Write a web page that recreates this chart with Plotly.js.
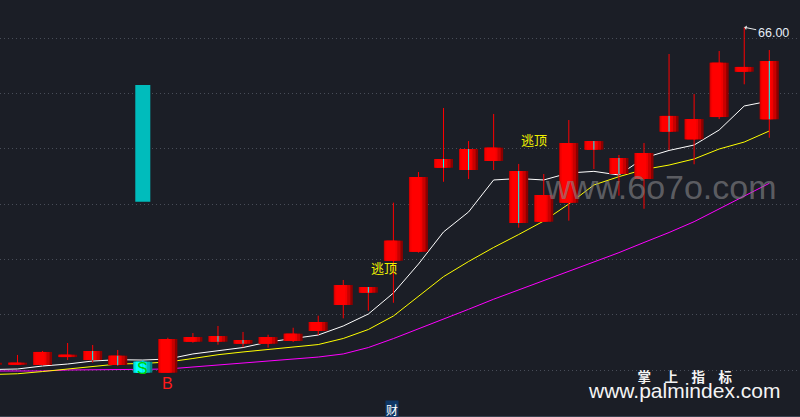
<!DOCTYPE html>
<html><head><meta charset="utf-8">
<script src="https://cdn.plot.ly/plotly-3.0.1.min.js"></script>
<style>html,body{margin:0;padding:0;background:#1b1e26;overflow:hidden}#chart{width:800px;height:417px}</style>
</head><body><div id="chart"></div>
<script>
// ---- data ----
const idx   = [-1,0,1,2,3,4,5,6,7,8,9,10,11,12,13,14,15,16,17,18,19,20,21,22,23,24,25,26,27,28,29,30];
const open  = [35.49,35.49,35.46,36.18,36.73,36.30,35.76,34.77,37.57,38.08,37.72,37.39,37.63,38.54,40.89,42.51,44.89,45.71,54.09,54.99,53.91,53.00,48.42,50.14,55.71,54.18,52.28,57.98,55.87,57.88,61.98,62.95];
const high  = [35.82,36.37,36.73,37.45,37.27,36.82,35.91,37.93,38.35,38.99,38.45,38.20,38.83,39.92,43.15,42.51,50.14,52.91,58.70,55.71,58.16,53.64,52.73,57.61,55.71,54.45,55.53,63.58,59.96,63.85,66.00,63.94];
const low   = [35.37,35.46,35.42,35.91,35.67,35.37,34.74,34.77,37.48,37.30,37.06,37.03,37.54,38.17,39.68,40.37,41.09,45.62,52.03,52.28,53.09,47.88,48.42,48.51,53.18,50.77,49.59,54.90,53.61,57.70,60.84,56.01];
const close = [35.67,35.67,36.64,36.39,35.91,35.46,34.77,37.81,37.99,37.57,37.39,37.99,38.29,39.35,42.69,42.00,46.70,52.46,53.30,53.09,55.11,48.30,50.83,55.53,54.93,52.73,54.63,56.56,57.70,62.79,62.41,57.68];
const maWhite   = [35.05,35.10,35.37,35.55,35.82,35.94,35.91,36.00,36.46,36.73,37.04,37.54,37.86,38.17,38.99,40.07,41.97,44.59,47.49,49.30,52.19,52.32,52.19,52.82,52.97,52.64,54.18,54.86,55.35,56.71,58.88,59.33];
const maYellow  = [34.60,34.67,34.87,35.10,35.37,35.55,35.60,35.73,36.05,36.39,36.64,36.86,37.03,37.31,37.86,38.67,39.89,41.66,43.45,44.82,46.09,47.26,48.48,50.02,51.74,52.49,53.14,53.54,54.09,54.99,55.62,56.62];
const maMagenta = [34.92,34.92,34.92,35.01,35.01,35.05,35.07,35.10,35.28,35.46,35.62,35.82,35.96,36.18,36.46,37.04,37.85,38.72,39.57,40.50,41.41,42.25,43.09,43.93,44.77,45.62,46.54,47.44,48.42,49.57,50.79,51.89];
const sellIdx = [5];          // S signal day (cyan candle)
const buyIdx  = [6];          // B signal day
const signalBarX = [5], signalBarLow = [50.23], signalBarHigh = [60.78];
const topLabels = [{x:14.63, y:44.30, t:'逃顶'}, {x:20.61, y:55.87, t:'逃顶'}];
const buyLabelY = 33.83, sellLabelY = 35.19;
const peakIdx = 29, peakVal = 66.00;

// ---- axes ----
const xr = [-0.698, 31.225];
const yr = [30.85, 68.463];

const traces = [];
// moving averages (main subplot, under candles)
traces.push({x: idx, y: maMagenta, type:'scatter', mode:'lines', line:{color:'#ff00ff', width:1}, hoverinfo:'skip'});
traces.push({x: idx, y: maYellow,  type:'scatter', mode:'lines', line:{color:'#ffff00', width:1}, hoverinfo:'skip'});
traces.push({x: idx, y: maWhite,   type:'scatter', mode:'lines', line:{color:'#ffffff', width:1}, hoverinfo:'skip'});

// candle groups
const isSell = i => sellIdx.includes(idx[i]);
const red = [], cyan = [];
idx.forEach((v,i) => (isSell(i) ? cyan : red).push(i));

function wicks(list, color){
  const xs=[], ys=[];
  list.forEach(i => { xs.push(idx[i], idx[i], null); ys.push(low[i], high[i], null); });
  return {x:xs, y:ys, type:'scatter', mode:'lines', line:{color:color, width:1}, xaxis:'x2', yaxis:'y2', hoverinfo:'skip'};
}
function bodies(list, colors){
  const layers = [[-0.379,0.758],[-0.379,0.66],[-0.345,0.50],[-0.28,0.36]];
  return layers.map((L,k) => ({
    type:'bar', x:list.map(i=>idx[i]),
    base:list.map(i=>Math.min(open[i],close[i])),
    y:list.map(i=>Math.max(Math.abs(close[i]-open[i]),0.15)),
    offset:L[0], width:L[1], marker:{color:colors[k], line:{width:0}},
    xaxis:'x2', yaxis:'y2', hoverinfo:'skip'
  }));
}
traces.push(...bodies(red, ['#8c0000','#c80000','#f20000','#ff0000']));
traces.push(...bodies(cyan, ['#008888','#00b8b8','#00e4e4','#00ffff']));
traces.push(wicks(red, '#ff0000'));
traces.push(wicks(cyan, '#00e0e0'));
// signal bar
traces.push({type:'bar', x:signalBarX, base:signalBarLow, y:signalBarHigh.map((h,k)=>h-signalBarLow[k]),
  width:0.6, marker:{color:'#00bcbc', line:{width:0}}, xaxis:'x2', yaxis:'y2', hoverinfo:'skip'});
// down-day marker line inside red bodies
(function(){
  const xs=[], ys=[];
  red.forEach(i => { if (close[i] < open[i]) { xs.push(idx[i], idx[i], null); ys.push(close[i], open[i], null); } });
  traces.push({x:xs, y:ys, type:'scatter', mode:'lines', line:{color:'#00ffff', width:1}, xaxis:'x2', yaxis:'y2', hoverinfo:'skip'});
})();

const ann = [];
topLabels.forEach(l => ann.push({x:l.x, y:l.y, xref:'x', yref:'y', text:l.t, showarrow:false,
  xanchor:'center', yanchor:'middle', font:{family:'Noto Sans CJK SC', size:13, color:'#f2f200'}}));
buyIdx.forEach(b => ann.push({x:b, y:buyLabelY, xref:'x', yref:'y', text:'B', showarrow:false,
  xanchor:'center', yanchor:'middle', font:{family:'Liberation Sans', size:16, color:'#ff1a1a'}}));
sellIdx.forEach(s => ann.push({x:s, y:sellLabelY, xref:'x', yref:'y', text:'S', showarrow:false,
  xanchor:'center', yanchor:'middle', font:{family:'Liberation Sans', size:16, color:'#00d000'}}));
ann.push({x:peakIdx, y:peakVal, xref:'x', yref:'y', text:peakVal.toFixed(2), showarrow:true,
  ax:29, ay:6, arrowcolor:'#e8e8e8', arrowwidth:1, arrowhead:1, arrowsize:0.8, standoff:0,
  font:{family:'Liberation Sans', size:12.5, color:'#e6eef8'}});
ann.push({x:0.826, y:0.551, xref:'paper', yref:'paper', xanchor:'center', yanchor:'middle', text:'www.6o7o.com', showarrow:false,
  font:{family:'Liberation Sans', size:34, color:'rgba(135,135,138,0.62)'}});
ann.push({x:0.8556, y:0.077, xref:'paper', yref:'paper', xanchor:'center', yanchor:'middle', showarrow:false, borderpad:0, align:'center',
  text:'<span style="font-family:Noto Sans CJK SC;font-size:13.5px;font-weight:bold">掌\u3000上\u3000指\u3000标</span><br><span style="font-size:21px">www.palmindex.com</span>',
  font:{family:'Liberation Sans', size:12, color:'#f4f4f4'}});
ann.push({x:0.4904, y:0.0161, xref:'paper', yref:'paper', xanchor:'center', yanchor:'middle', text:'财', showarrow:false, bgcolor:'#0e3766', borderpad:0,
  font:{family:'Noto Sans CJK SC', size:12, color:'#ffffff'}});

const layout = {
  width:800, height:417, margin:{l:0, r:0, t:0, b:1, pad:0},
  paper_bgcolor:'#1b1e26', plot_bgcolor:'#1b1e26', showlegend:false, hovermode:false, barmode:'overlay',
  xaxis:{range:xr, showgrid:false, zeroline:false, showticklabels:false, ticks:'', showline:true, linecolor:'#3a4250', linewidth:2, fixedrange:true},
  yaxis:{range:yr, tick0:35, dtick:5, showgrid:true, gridcolor:'rgb(72,77,88)', gridwidth:1, griddash:'1px,3px', zeroline:false, showticklabels:false, ticks:'', fixedrange:true},
  xaxis2:{range:xr, overlaying:'x', visible:false, fixedrange:true},
  yaxis2:{range:yr, overlaying:'y', visible:false, fixedrange:true},
  annotations: ann
};
Plotly.newPlot('chart', traces, layout, {displayModeBar:false, staticPlot:true});
</script></body></html>
